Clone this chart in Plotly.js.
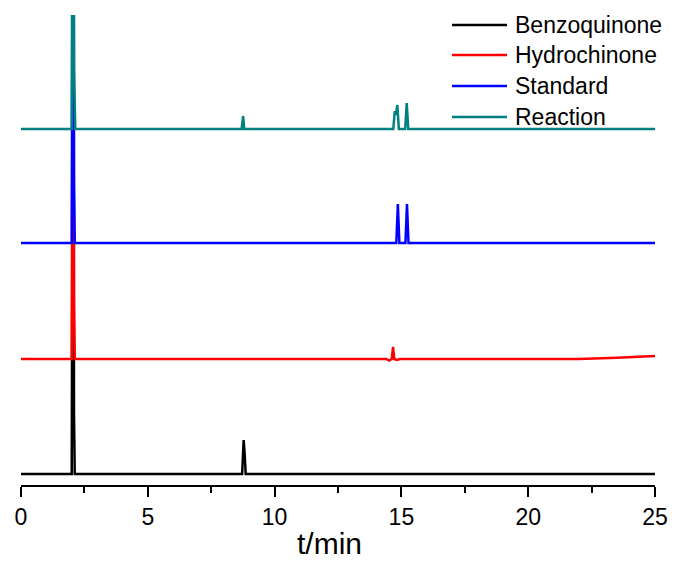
<!DOCTYPE html>
<html>
<head>
<meta charset="utf-8">
<script src="https://cdn.plot.ly/plotly-3.0.1.min.js"></script>
<style>
  html, body { margin: 0; padding: 0; background: #ffffff; }
  #chart { width: 676px; height: 563px; }
</style>
</head>
<body>
<div id="chart"></div>
<script>
// HPLC chromatograms, stacked vertically (signal in detector units above each baseline)
const seriesNames = ["Benzoquinone", "Hydrochinone", "Standard", "Reaction"];
const seriesColors = ["#000000", "#ff0000", "#0000ff", "#008080"];
const stackOffset = [11, 126, 242, 356];

const benzoquinoneT = [0, 2.00, 2.03, 2.06, 2.09, 2.12, 8.72, 8.78, 8.82, 8.86, 25];
const benzoquinoneY = [0, 0, 300, 900, 60, 0, 0, 34, 20, 0, 0];

const hydrochinoneT = [0, 2.00, 2.03, 2.06, 2.09, 2.12, 14.40, 14.52, 14.62, 14.67, 14.72, 14.82, 14.95, 22.0, 23.5, 25];
const hydrochinoneY = [0, 0, 300, 900, 60, 0, 0, -1.5, 0, 12, 0, -1, 0, 0, 1.2, 3];

const standardT = [0, 2.00, 2.03, 2.06, 2.09, 2.12, 14.80, 14.86, 14.92, 15.16, 15.22, 15.28, 25];
const standardY = [0, 0, 300, 900, 60, 0, 0, 39, 0, 0, 39, 0, 0];

const reactionT = [0, 2.00, 2.03, 2.06, 2.09, 2.11, 2.14, 8.70, 8.76, 8.80, 14.68, 14.74, 14.78, 14.84, 14.90, 15.15, 15.21, 15.27, 25];
const reactionY = [0, 0, 300, 900, 60, 26, 0, 0, 13, 0, 0, 18, 14, 24, 0, 0, 26, 0, 0];

const xTickVals = [0, 5, 10, 15, 20, 25];
const xTickText = ["0", "5", "10", "15", "20", "25"];

const times = [benzoquinoneT, hydrochinoneT, standardT, reactionT];
const signals = [benzoquinoneY, hydrochinoneY, standardY, reactionY];

const traces = seriesNames.map((name, i) => ({
  type: "scatter",
  mode: "lines",
  name: name,
  x: times[i],
  y: signals[i].map(v => v + stackOffset[i]),
  line: { color: seriesColors[i], width: 2.5 },
  hoverinfo: "skip",
  showlegend: false
}));

// Hand-placed legend: short colour bars with labels in the upper right
const W = 676, H = 563;
const M = { l: 21, r: 21, t: 15, b: 78 };
const pw = W - M.l - M.r, ph = H - M.t - M.b;
const px2x = px => (px - M.l) / pw;
const py2y = py => (H - M.b - py) / ph;
const legendRowsY = [25, 55, 86, 117];
const FONT = "Liberation Sans, Arial, sans-serif";

const shapes = seriesNames.map((n, i) => ({
  type: "line", xref: "paper", yref: "paper",
  x0: px2x(452), x1: px2x(507),
  y0: py2y(legendRowsY[i]), y1: py2y(legendRowsY[i]),
  line: { color: seriesColors[i], width: 2.5 }
}));

const annotations = seriesNames.map((n, i) => ({
  xref: "paper", yref: "paper",
  x: px2x(513), y: py2y(legendRowsY[i]),
  xanchor: "left", yanchor: "middle",
  text: n, showarrow: false,
  font: { family: FONT, size: 23, color: "#000000" }
}));

// Axis caption, set a little left of centre under the tick labels
annotations.push({
  xref: "paper", yref: "paper",
  x: px2x(329), y: py2y(543),
  xanchor: "center", yanchor: "middle",
  text: "t/min", showarrow: false,
  font: { family: FONT, size: 30, color: "#000000" }
});

const layout = {
  width: W, height: H,
  margin: M,
  paper_bgcolor: "#ffffff",
  plot_bgcolor: "#ffffff",
  showlegend: false,
  xaxis: {
    range: [0, 25],
    showline: true, linecolor: "#000000", linewidth: 2,
    showgrid: false, zeroline: false,
    ticks: "outside", ticklen: 10, tickwidth: 2, tickcolor: "#000000",
    tickmode: "array", tickvals: xTickVals, ticktext: xTickText,
    minor: { dtick: 2.5, ticks: "outside", ticklen: 6, tickwidth: 2, tickcolor: "#000000", showgrid: false },
    tickfont: { family: FONT, size: 23, color: "#000000" }
  },
  yaxis: {
    range: [0, ph],
    visible: false, showgrid: false, zeroline: false
  },
  shapes: shapes,
  annotations: annotations
};

Plotly.newPlot("chart", traces, layout, { staticPlot: true, displayModeBar: false });
</script>
</body>
</html>
